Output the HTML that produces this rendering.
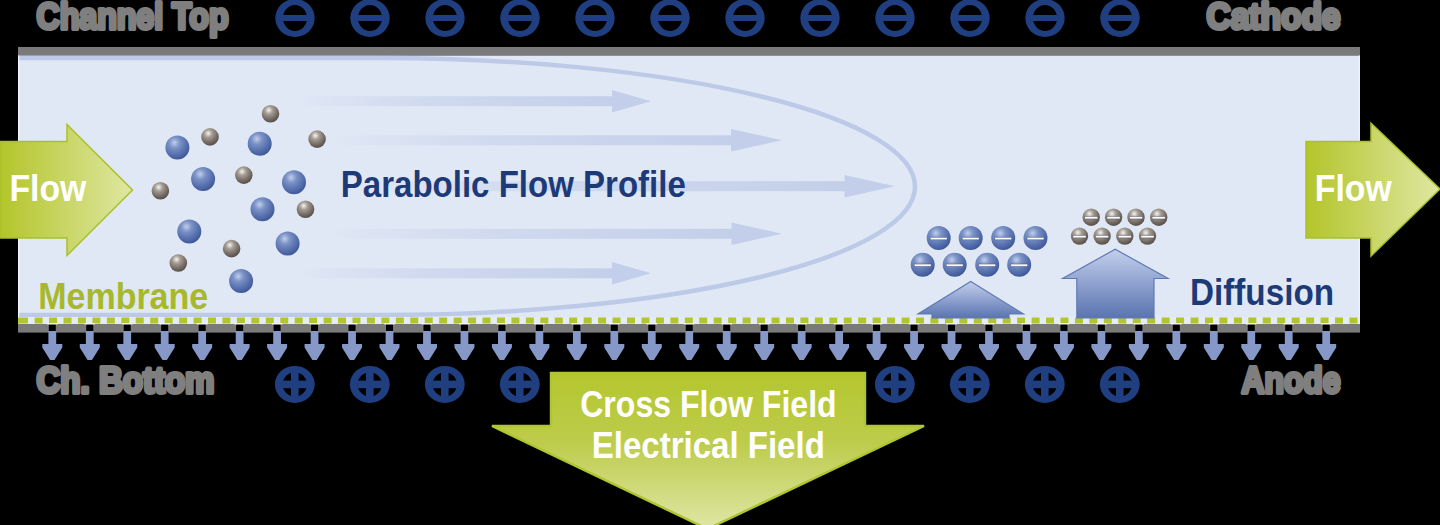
<!DOCTYPE html>
<html><head><meta charset="utf-8"><style>
html,body{margin:0;padding:0;background:#000;width:1440px;height:525px;overflow:hidden}
svg{display:block}
</style></head><body><svg width="1440" height="525" viewBox="0 0 1440 525">
<defs>
 <radialGradient id="gb" cx="0.38" cy="0.3" r="0.75">
  <stop offset="0" stop-color="#c2cde9"/>
  <stop offset="0.3" stop-color="#7a92c6"/>
  <stop offset="0.75" stop-color="#5069a8"/>
  <stop offset="1" stop-color="#3b5491"/>
 </radialGradient>
 <radialGradient id="gg" cx="0.4" cy="0.3" r="0.75">
  <stop offset="0" stop-color="#f6f4f0"/>
  <stop offset="0.3" stop-color="#a59d95"/>
  <stop offset="0.75" stop-color="#6c645c"/>
  <stop offset="1" stop-color="#4f4842"/>
 </radialGradient>
 <linearGradient id="gfl" x1="0" y1="0" x2="1" y2="0">
  <stop offset="0" stop-color="#b3c52b"/>
  <stop offset="1" stop-color="#dfe7a2"/>
 </linearGradient>
 <linearGradient id="gdown" x1="0" y1="0" x2="0" y2="1">
  <stop offset="0" stop-color="#b4c62e"/>
  <stop offset="0.45" stop-color="#bdcc4c"/>
  <stop offset="1" stop-color="#dfe6a6"/>
 </linearGradient>
 <linearGradient id="gup" x1="0" y1="0" x2="0" y2="1">
  <stop offset="0" stop-color="#c3cfec"/>
  <stop offset="1" stop-color="#5a74b1"/>
 </linearGradient>
 <linearGradient id="gshaft" gradientUnits="userSpaceOnUse" x1="290" y1="0" x2="800" y2="0">
  <stop offset="0" stop-color="#c3cfea" stop-opacity="0"/>
  <stop offset="0.5" stop-color="#c3cfea" stop-opacity="0.75"/>
  <stop offset="1" stop-color="#c3cfea" stop-opacity="1"/>
 </linearGradient>
</defs>
<rect x="18" y="47" width="1342" height="8.5" fill="#7a7a7a"/><rect x="18" y="55.5" width="1342" height="268.5" fill="#e1e8f5"/><path d="M18 58.099999999999994 L380 58.099999999999994 A535 128.5 0 0 1 380 315.1 L18 315.1" fill="none" stroke="#bccae8" stroke-width="4.5"/><rect x="18" y="55.5" width="1.2" height="262" fill="#f3f6fc"/><rect x="1358.8" y="55.5" width="1.2" height="262" fill="#eef2fa"/><linearGradient id="sh0" gradientUnits="userSpaceOnUse" x1="287" y1="0" x2="612" y2="0"><stop offset="0" stop-color="#c3cfea" stop-opacity="0"/><stop offset="0.45" stop-color="#c3cfea" stop-opacity="0.6"/><stop offset="1" stop-color="#c3cfea" stop-opacity="1"/></linearGradient><rect x="287" y="96.2" width="326" height="10" fill="url(#sh0)"/><path d="M612 89.9 L651 101.2 L612 112.5 Z" fill="#c3cfea"/><linearGradient id="sh1" gradientUnits="userSpaceOnUse" x1="317" y1="0" x2="731" y2="0"><stop offset="0" stop-color="#c3cfea" stop-opacity="0"/><stop offset="0.45" stop-color="#c3cfea" stop-opacity="0.6"/><stop offset="1" stop-color="#c3cfea" stop-opacity="1"/></linearGradient><rect x="317" y="135.3" width="415" height="10" fill="url(#sh1)"/><path d="M731 129.0 L782 140.3 L731 151.60000000000002 Z" fill="#c3cfea"/><linearGradient id="sh2" gradientUnits="userSpaceOnUse" x1="335" y1="0" x2="844.5" y2="0"><stop offset="0" stop-color="#c3cfea" stop-opacity="0"/><stop offset="0.45" stop-color="#c3cfea" stop-opacity="0.6"/><stop offset="1" stop-color="#c3cfea" stop-opacity="1"/></linearGradient><rect x="335" y="181.2" width="510.5" height="10" fill="url(#sh2)"/><path d="M844.5 174.89999999999998 L895 186.2 L844.5 197.5 Z" fill="#c3cfea"/><linearGradient id="sh3" gradientUnits="userSpaceOnUse" x1="315" y1="0" x2="731.5" y2="0"><stop offset="0" stop-color="#c3cfea" stop-opacity="0"/><stop offset="0.45" stop-color="#c3cfea" stop-opacity="0.6"/><stop offset="1" stop-color="#c3cfea" stop-opacity="1"/></linearGradient><rect x="315" y="228.8" width="417.5" height="10" fill="url(#sh3)"/><path d="M731.5 222.5 L782 233.8 L731.5 245.10000000000002 Z" fill="#c3cfea"/><linearGradient id="sh4" gradientUnits="userSpaceOnUse" x1="287" y1="0" x2="612" y2="0"><stop offset="0" stop-color="#c3cfea" stop-opacity="0"/><stop offset="0.45" stop-color="#c3cfea" stop-opacity="0.6"/><stop offset="1" stop-color="#c3cfea" stop-opacity="1"/></linearGradient><rect x="287" y="268.3" width="326" height="10" fill="url(#sh4)"/><path d="M612 262.0 L651 273.3 L612 284.6 Z" fill="#c3cfea"/><rect x="18" y="317" width="1342" height="7" fill="#e6ecf7"/><rect x="18" y="317.5" width="10" height="6" fill="#b2c62c"/><rect x="34.60" y="317.5" width="8.00" height="6" fill="#b2c62c"/><rect x="49.05" y="317.5" width="8.00" height="6" fill="#b2c62c"/><rect x="63.50" y="317.5" width="8.00" height="6" fill="#b2c62c"/><rect x="77.95" y="317.5" width="8.00" height="6" fill="#b2c62c"/><rect x="92.40" y="317.5" width="8.00" height="6" fill="#b2c62c"/><rect x="106.84" y="317.5" width="8.00" height="6" fill="#b2c62c"/><rect x="121.29" y="317.5" width="8.00" height="6" fill="#b2c62c"/><rect x="135.74" y="317.5" width="8.00" height="6" fill="#b2c62c"/><rect x="150.19" y="317.5" width="8.00" height="6" fill="#b2c62c"/><rect x="164.64" y="317.5" width="8.00" height="6" fill="#b2c62c"/><rect x="179.09" y="317.5" width="8.00" height="6" fill="#b2c62c"/><rect x="193.54" y="317.5" width="8.00" height="6" fill="#b2c62c"/><rect x="207.99" y="317.5" width="8.00" height="6" fill="#b2c62c"/><rect x="222.44" y="317.5" width="8.00" height="6" fill="#b2c62c"/><rect x="236.89" y="317.5" width="8.00" height="6" fill="#b2c62c"/><rect x="251.34" y="317.5" width="8.00" height="6" fill="#b2c62c"/><rect x="265.78" y="317.5" width="8.00" height="6" fill="#b2c62c"/><rect x="280.23" y="317.5" width="8.00" height="6" fill="#b2c62c"/><rect x="294.68" y="317.5" width="8.00" height="6" fill="#b2c62c"/><rect x="309.13" y="317.5" width="8.00" height="6" fill="#b2c62c"/><rect x="323.58" y="317.5" width="8.00" height="6" fill="#b2c62c"/><rect x="338.03" y="317.5" width="8.00" height="6" fill="#b2c62c"/><rect x="352.48" y="317.5" width="8.00" height="6" fill="#b2c62c"/><rect x="366.93" y="317.5" width="8.00" height="6" fill="#b2c62c"/><rect x="381.38" y="317.5" width="8.00" height="6" fill="#b2c62c"/><rect x="395.83" y="317.5" width="8.00" height="6" fill="#b2c62c"/><rect x="410.27" y="317.5" width="8.00" height="6" fill="#b2c62c"/><rect x="424.72" y="317.5" width="8.00" height="6" fill="#b2c62c"/><rect x="439.17" y="317.5" width="8.00" height="6" fill="#b2c62c"/><rect x="453.62" y="317.5" width="8.00" height="6" fill="#b2c62c"/><rect x="468.07" y="317.5" width="8.00" height="6" fill="#b2c62c"/><rect x="482.52" y="317.5" width="8.00" height="6" fill="#b2c62c"/><rect x="496.97" y="317.5" width="8.00" height="6" fill="#b2c62c"/><rect x="511.42" y="317.5" width="8.00" height="6" fill="#b2c62c"/><rect x="525.87" y="317.5" width="8.00" height="6" fill="#b2c62c"/><rect x="540.32" y="317.5" width="8.00" height="6" fill="#b2c62c"/><rect x="554.76" y="317.5" width="8.00" height="6" fill="#b2c62c"/><rect x="569.21" y="317.5" width="8.00" height="6" fill="#b2c62c"/><rect x="583.66" y="317.5" width="8.00" height="6" fill="#b2c62c"/><rect x="598.11" y="317.5" width="8.00" height="6" fill="#b2c62c"/><rect x="612.56" y="317.5" width="8.00" height="6" fill="#b2c62c"/><rect x="627.01" y="317.5" width="8.00" height="6" fill="#b2c62c"/><rect x="641.46" y="317.5" width="8.00" height="6" fill="#b2c62c"/><rect x="655.91" y="317.5" width="8.00" height="6" fill="#b2c62c"/><rect x="670.36" y="317.5" width="8.00" height="6" fill="#b2c62c"/><rect x="684.80" y="317.5" width="8.00" height="6" fill="#b2c62c"/><rect x="699.25" y="317.5" width="8.00" height="6" fill="#b2c62c"/><rect x="713.70" y="317.5" width="8.00" height="6" fill="#b2c62c"/><rect x="728.15" y="317.5" width="8.00" height="6" fill="#b2c62c"/><rect x="742.60" y="317.5" width="8.00" height="6" fill="#b2c62c"/><rect x="757.05" y="317.5" width="8.00" height="6" fill="#b2c62c"/><rect x="771.50" y="317.5" width="8.00" height="6" fill="#b2c62c"/><rect x="785.95" y="317.5" width="8.00" height="6" fill="#b2c62c"/><rect x="800.40" y="317.5" width="8.00" height="6" fill="#b2c62c"/><rect x="814.85" y="317.5" width="8.00" height="6" fill="#b2c62c"/><rect x="829.29" y="317.5" width="8.00" height="6" fill="#b2c62c"/><rect x="843.74" y="317.5" width="8.00" height="6" fill="#b2c62c"/><rect x="858.19" y="317.5" width="8.00" height="6" fill="#b2c62c"/><rect x="872.64" y="317.5" width="8.00" height="6" fill="#b2c62c"/><rect x="887.09" y="317.5" width="8.00" height="6" fill="#b2c62c"/><rect x="901.54" y="317.5" width="8.00" height="6" fill="#b2c62c"/><rect x="915.99" y="317.5" width="8.00" height="6" fill="#b2c62c"/><rect x="930.44" y="317.5" width="8.00" height="6" fill="#b2c62c"/><rect x="944.89" y="317.5" width="8.00" height="6" fill="#b2c62c"/><rect x="959.34" y="317.5" width="8.00" height="6" fill="#b2c62c"/><rect x="973.78" y="317.5" width="8.00" height="6" fill="#b2c62c"/><rect x="988.23" y="317.5" width="8.00" height="6" fill="#b2c62c"/><rect x="1002.68" y="317.5" width="8.00" height="6" fill="#b2c62c"/><rect x="1017.13" y="317.5" width="8.00" height="6" fill="#b2c62c"/><rect x="1031.58" y="317.5" width="8.00" height="6" fill="#b2c62c"/><rect x="1046.03" y="317.5" width="8.00" height="6" fill="#b2c62c"/><rect x="1060.48" y="317.5" width="8.00" height="6" fill="#b2c62c"/><rect x="1074.93" y="317.5" width="8.00" height="6" fill="#b2c62c"/><rect x="1089.38" y="317.5" width="8.00" height="6" fill="#b2c62c"/><rect x="1103.83" y="317.5" width="8.00" height="6" fill="#b2c62c"/><rect x="1118.27" y="317.5" width="8.00" height="6" fill="#b2c62c"/><rect x="1132.72" y="317.5" width="8.00" height="6" fill="#b2c62c"/><rect x="1147.17" y="317.5" width="8.00" height="6" fill="#b2c62c"/><rect x="1161.62" y="317.5" width="8.00" height="6" fill="#b2c62c"/><rect x="1176.07" y="317.5" width="8.00" height="6" fill="#b2c62c"/><rect x="1190.52" y="317.5" width="8.00" height="6" fill="#b2c62c"/><rect x="1204.97" y="317.5" width="8.00" height="6" fill="#b2c62c"/><rect x="1219.42" y="317.5" width="8.00" height="6" fill="#b2c62c"/><rect x="1233.87" y="317.5" width="8.00" height="6" fill="#b2c62c"/><rect x="1248.32" y="317.5" width="8.00" height="6" fill="#b2c62c"/><rect x="1262.76" y="317.5" width="8.00" height="6" fill="#b2c62c"/><rect x="1277.21" y="317.5" width="8.00" height="6" fill="#b2c62c"/><rect x="1291.66" y="317.5" width="8.00" height="6" fill="#b2c62c"/><rect x="1306.11" y="317.5" width="8.00" height="6" fill="#b2c62c"/><rect x="1320.56" y="317.5" width="8.00" height="6" fill="#b2c62c"/><rect x="1335.01" y="317.5" width="8.00" height="6" fill="#b2c62c"/><rect x="1349.46" y="317.5" width="8.00" height="6" fill="#b2c62c"/><rect x="18" y="324" width="1342" height="8.6" fill="#7a7a7a"/><rect x="48.80" y="324" width="7" height="9" fill="#000"/><rect x="47.10" y="323.2" width="10.4" height="1.3" fill="#f4f7fc"/><path d="M48.40 331 V344 H42.30 V347.5 L50.10 360 H54.50 L62.30 347.5 V344 H56.20 V331 Z" fill="#8598c8"/><rect x="86.27" y="324" width="7" height="9" fill="#000"/><rect x="84.57" y="323.2" width="10.4" height="1.3" fill="#f4f7fc"/><path d="M85.87 331 V344 H79.77 V347.5 L87.57 360 H91.97 L99.77 347.5 V344 H93.67 V331 Z" fill="#8598c8"/><rect x="123.74" y="324" width="7" height="9" fill="#000"/><rect x="122.04" y="323.2" width="10.4" height="1.3" fill="#f4f7fc"/><path d="M123.34 331 V344 H117.24 V347.5 L125.04 360 H129.44 L137.24 347.5 V344 H131.14 V331 Z" fill="#8598c8"/><rect x="161.20" y="324" width="7" height="9" fill="#000"/><rect x="159.50" y="323.2" width="10.4" height="1.3" fill="#f4f7fc"/><path d="M160.80 331 V344 H154.70 V347.5 L162.50 360 H166.90 L174.70 347.5 V344 H168.60 V331 Z" fill="#8598c8"/><rect x="198.67" y="324" width="7" height="9" fill="#000"/><rect x="196.97" y="323.2" width="10.4" height="1.3" fill="#f4f7fc"/><path d="M198.27 331 V344 H192.17 V347.5 L199.97 360 H204.37 L212.17 347.5 V344 H206.07 V331 Z" fill="#8598c8"/><rect x="236.14" y="324" width="7" height="9" fill="#000"/><rect x="234.44" y="323.2" width="10.4" height="1.3" fill="#f4f7fc"/><path d="M235.74 331 V344 H229.64 V347.5 L237.44 360 H241.84 L249.64 347.5 V344 H243.54 V331 Z" fill="#8598c8"/><rect x="273.61" y="324" width="7" height="9" fill="#000"/><rect x="271.91" y="323.2" width="10.4" height="1.3" fill="#f4f7fc"/><path d="M273.21 331 V344 H267.11 V347.5 L274.91 360 H279.31 L287.11 347.5 V344 H281.01 V331 Z" fill="#8598c8"/><rect x="311.07" y="324" width="7" height="9" fill="#000"/><rect x="309.37" y="323.2" width="10.4" height="1.3" fill="#f4f7fc"/><path d="M310.67 331 V344 H304.57 V347.5 L312.37 360 H316.77 L324.57 347.5 V344 H318.47 V331 Z" fill="#8598c8"/><rect x="348.54" y="324" width="7" height="9" fill="#000"/><rect x="346.84" y="323.2" width="10.4" height="1.3" fill="#f4f7fc"/><path d="M348.14 331 V344 H342.04 V347.5 L349.84 360 H354.24 L362.04 347.5 V344 H355.94 V331 Z" fill="#8598c8"/><rect x="386.01" y="324" width="7" height="9" fill="#000"/><rect x="384.31" y="323.2" width="10.4" height="1.3" fill="#f4f7fc"/><path d="M385.61 331 V344 H379.51 V347.5 L387.31 360 H391.71 L399.51 347.5 V344 H393.41 V331 Z" fill="#8598c8"/><rect x="423.48" y="324" width="7" height="9" fill="#000"/><rect x="421.78" y="323.2" width="10.4" height="1.3" fill="#f4f7fc"/><path d="M423.08 331 V344 H416.98 V347.5 L424.78 360 H429.18 L436.98 347.5 V344 H430.88 V331 Z" fill="#8598c8"/><rect x="460.94" y="324" width="7" height="9" fill="#000"/><rect x="459.24" y="323.2" width="10.4" height="1.3" fill="#f4f7fc"/><path d="M460.54 331 V344 H454.44 V347.5 L462.24 360 H466.64 L474.44 347.5 V344 H468.34 V331 Z" fill="#8598c8"/><rect x="498.41" y="324" width="7" height="9" fill="#000"/><rect x="496.71" y="323.2" width="10.4" height="1.3" fill="#f4f7fc"/><path d="M498.01 331 V344 H491.91 V347.5 L499.71 360 H504.11 L511.91 347.5 V344 H505.81 V331 Z" fill="#8598c8"/><rect x="535.88" y="324" width="7" height="9" fill="#000"/><rect x="534.18" y="323.2" width="10.4" height="1.3" fill="#f4f7fc"/><path d="M535.48 331 V344 H529.38 V347.5 L537.18 360 H541.58 L549.38 347.5 V344 H543.28 V331 Z" fill="#8598c8"/><rect x="573.35" y="324" width="7" height="9" fill="#000"/><rect x="571.65" y="323.2" width="10.4" height="1.3" fill="#f4f7fc"/><path d="M572.95 331 V344 H566.85 V347.5 L574.65 360 H579.05 L586.85 347.5 V344 H580.75 V331 Z" fill="#8598c8"/><rect x="610.81" y="324" width="7" height="9" fill="#000"/><rect x="609.11" y="323.2" width="10.4" height="1.3" fill="#f4f7fc"/><path d="M610.41 331 V344 H604.31 V347.5 L612.11 360 H616.51 L624.31 347.5 V344 H618.21 V331 Z" fill="#8598c8"/><rect x="648.28" y="324" width="7" height="9" fill="#000"/><rect x="646.58" y="323.2" width="10.4" height="1.3" fill="#f4f7fc"/><path d="M647.88 331 V344 H641.78 V347.5 L649.58 360 H653.98 L661.78 347.5 V344 H655.68 V331 Z" fill="#8598c8"/><rect x="685.75" y="324" width="7" height="9" fill="#000"/><rect x="684.05" y="323.2" width="10.4" height="1.3" fill="#f4f7fc"/><path d="M685.35 331 V344 H679.25 V347.5 L687.05 360 H691.45 L699.25 347.5 V344 H693.15 V331 Z" fill="#8598c8"/><rect x="723.22" y="324" width="7" height="9" fill="#000"/><rect x="721.52" y="323.2" width="10.4" height="1.3" fill="#f4f7fc"/><path d="M722.82 331 V344 H716.72 V347.5 L724.52 360 H728.92 L736.72 347.5 V344 H730.62 V331 Z" fill="#8598c8"/><rect x="760.69" y="324" width="7" height="9" fill="#000"/><rect x="758.99" y="323.2" width="10.4" height="1.3" fill="#f4f7fc"/><path d="M760.29 331 V344 H754.19 V347.5 L761.99 360 H766.39 L774.19 347.5 V344 H768.09 V331 Z" fill="#8598c8"/><rect x="798.15" y="324" width="7" height="9" fill="#000"/><rect x="796.45" y="323.2" width="10.4" height="1.3" fill="#f4f7fc"/><path d="M797.75 331 V344 H791.65 V347.5 L799.45 360 H803.85 L811.65 347.5 V344 H805.55 V331 Z" fill="#8598c8"/><rect x="835.62" y="324" width="7" height="9" fill="#000"/><rect x="833.92" y="323.2" width="10.4" height="1.3" fill="#f4f7fc"/><path d="M835.22 331 V344 H829.12 V347.5 L836.92 360 H841.32 L849.12 347.5 V344 H843.02 V331 Z" fill="#8598c8"/><rect x="873.09" y="324" width="7" height="9" fill="#000"/><rect x="871.39" y="323.2" width="10.4" height="1.3" fill="#f4f7fc"/><path d="M872.69 331 V344 H866.59 V347.5 L874.39 360 H878.79 L886.59 347.5 V344 H880.49 V331 Z" fill="#8598c8"/><rect x="910.56" y="324" width="7" height="9" fill="#000"/><rect x="908.86" y="323.2" width="10.4" height="1.3" fill="#f4f7fc"/><path d="M910.16 331 V344 H904.06 V347.5 L911.86 360 H916.26 L924.06 347.5 V344 H917.96 V331 Z" fill="#8598c8"/><rect x="948.02" y="324" width="7" height="9" fill="#000"/><rect x="946.32" y="323.2" width="10.4" height="1.3" fill="#f4f7fc"/><path d="M947.62 331 V344 H941.52 V347.5 L949.32 360 H953.72 L961.52 347.5 V344 H955.42 V331 Z" fill="#8598c8"/><rect x="985.49" y="324" width="7" height="9" fill="#000"/><rect x="983.79" y="323.2" width="10.4" height="1.3" fill="#f4f7fc"/><path d="M985.09 331 V344 H978.99 V347.5 L986.79 360 H991.19 L998.99 347.5 V344 H992.89 V331 Z" fill="#8598c8"/><rect x="1022.96" y="324" width="7" height="9" fill="#000"/><rect x="1021.26" y="323.2" width="10.4" height="1.3" fill="#f4f7fc"/><path d="M1022.56 331 V344 H1016.46 V347.5 L1024.26 360 H1028.66 L1036.46 347.5 V344 H1030.36 V331 Z" fill="#8598c8"/><rect x="1060.43" y="324" width="7" height="9" fill="#000"/><rect x="1058.73" y="323.2" width="10.4" height="1.3" fill="#f4f7fc"/><path d="M1060.03 331 V344 H1053.93 V347.5 L1061.73 360 H1066.13 L1073.93 347.5 V344 H1067.83 V331 Z" fill="#8598c8"/><rect x="1097.89" y="324" width="7" height="9" fill="#000"/><rect x="1096.19" y="323.2" width="10.4" height="1.3" fill="#f4f7fc"/><path d="M1097.49 331 V344 H1091.39 V347.5 L1099.19 360 H1103.59 L1111.39 347.5 V344 H1105.29 V331 Z" fill="#8598c8"/><rect x="1135.36" y="324" width="7" height="9" fill="#000"/><rect x="1133.66" y="323.2" width="10.4" height="1.3" fill="#f4f7fc"/><path d="M1134.96 331 V344 H1128.86 V347.5 L1136.66 360 H1141.06 L1148.86 347.5 V344 H1142.76 V331 Z" fill="#8598c8"/><rect x="1172.83" y="324" width="7" height="9" fill="#000"/><rect x="1171.13" y="323.2" width="10.4" height="1.3" fill="#f4f7fc"/><path d="M1172.43 331 V344 H1166.33 V347.5 L1174.13 360 H1178.53 L1186.33 347.5 V344 H1180.23 V331 Z" fill="#8598c8"/><rect x="1210.30" y="324" width="7" height="9" fill="#000"/><rect x="1208.60" y="323.2" width="10.4" height="1.3" fill="#f4f7fc"/><path d="M1209.90 331 V344 H1203.80 V347.5 L1211.60 360 H1216.00 L1223.80 347.5 V344 H1217.70 V331 Z" fill="#8598c8"/><rect x="1247.76" y="324" width="7" height="9" fill="#000"/><rect x="1246.06" y="323.2" width="10.4" height="1.3" fill="#f4f7fc"/><path d="M1247.36 331 V344 H1241.26 V347.5 L1249.06 360 H1253.46 L1261.26 347.5 V344 H1255.16 V331 Z" fill="#8598c8"/><rect x="1285.23" y="324" width="7" height="9" fill="#000"/><rect x="1283.53" y="323.2" width="10.4" height="1.3" fill="#f4f7fc"/><path d="M1284.83 331 V344 H1278.73 V347.5 L1286.53 360 H1290.93 L1298.73 347.5 V344 H1292.63 V331 Z" fill="#8598c8"/><rect x="1322.70" y="324" width="7" height="9" fill="#000"/><rect x="1321.00" y="323.2" width="10.4" height="1.3" fill="#f4f7fc"/><path d="M1322.30 331 V344 H1316.20 V347.5 L1324.00 360 H1328.40 L1336.20 347.5 V344 H1330.10 V331 Z" fill="#8598c8"/><circle cx="177.4" cy="147.5" r="12" fill="url(#gb)"/><circle cx="259.7" cy="143.7" r="12" fill="url(#gb)"/><circle cx="203.1" cy="178.9" r="12" fill="url(#gb)"/><circle cx="294" cy="182.3" r="12" fill="url(#gb)"/><circle cx="262.5" cy="209.3" r="12" fill="url(#gb)"/><circle cx="189.3" cy="231.4" r="12" fill="url(#gb)"/><circle cx="287.6" cy="243.6" r="12" fill="url(#gb)"/><circle cx="241.1" cy="281" r="12" fill="url(#gb)"/><circle cx="270.5" cy="113.7" r="8.8" fill="url(#gg)"/><circle cx="210" cy="136.9" r="8.8" fill="url(#gg)"/><circle cx="317.1" cy="139.1" r="8.8" fill="url(#gg)"/><circle cx="160.4" cy="190.7" r="8.8" fill="url(#gg)"/><circle cx="243.8" cy="175.1" r="8.8" fill="url(#gg)"/><circle cx="305.5" cy="209.3" r="8.8" fill="url(#gg)"/><circle cx="231.6" cy="248.6" r="8.8" fill="url(#gg)"/><circle cx="178.3" cy="263" r="8.8" fill="url(#gg)"/><path d="M275.3 18 a19.7 19 0 1 0 39.4 0 a19.7 19 0 1 0 -39.4 0 Z M283 18 a12 13 0 1 1 24 0 a12 13 0 1 1 -24 0 Z" fill="#1f3f80" fill-rule="evenodd"/><rect x="282.5" y="15" width="25" height="6" fill="#1f3f80"/><path d="M350.3 18 a19.7 19 0 1 0 39.4 0 a19.7 19 0 1 0 -39.4 0 Z M358 18 a12 13 0 1 1 24 0 a12 13 0 1 1 -24 0 Z" fill="#1f3f80" fill-rule="evenodd"/><rect x="357.5" y="15" width="25" height="6" fill="#1f3f80"/><path d="M425.3 18 a19.7 19 0 1 0 39.4 0 a19.7 19 0 1 0 -39.4 0 Z M433 18 a12 13 0 1 1 24 0 a12 13 0 1 1 -24 0 Z" fill="#1f3f80" fill-rule="evenodd"/><rect x="432.5" y="15" width="25" height="6" fill="#1f3f80"/><path d="M500.3 18 a19.7 19 0 1 0 39.4 0 a19.7 19 0 1 0 -39.4 0 Z M508 18 a12 13 0 1 1 24 0 a12 13 0 1 1 -24 0 Z" fill="#1f3f80" fill-rule="evenodd"/><rect x="507.5" y="15" width="25" height="6" fill="#1f3f80"/><path d="M575.3 18 a19.7 19 0 1 0 39.4 0 a19.7 19 0 1 0 -39.4 0 Z M583 18 a12 13 0 1 1 24 0 a12 13 0 1 1 -24 0 Z" fill="#1f3f80" fill-rule="evenodd"/><rect x="582.5" y="15" width="25" height="6" fill="#1f3f80"/><path d="M650.3 18 a19.7 19 0 1 0 39.4 0 a19.7 19 0 1 0 -39.4 0 Z M658 18 a12 13 0 1 1 24 0 a12 13 0 1 1 -24 0 Z" fill="#1f3f80" fill-rule="evenodd"/><rect x="657.5" y="15" width="25" height="6" fill="#1f3f80"/><path d="M725.3 18 a19.7 19 0 1 0 39.4 0 a19.7 19 0 1 0 -39.4 0 Z M733 18 a12 13 0 1 1 24 0 a12 13 0 1 1 -24 0 Z" fill="#1f3f80" fill-rule="evenodd"/><rect x="732.5" y="15" width="25" height="6" fill="#1f3f80"/><path d="M800.3 18 a19.7 19 0 1 0 39.4 0 a19.7 19 0 1 0 -39.4 0 Z M808 18 a12 13 0 1 1 24 0 a12 13 0 1 1 -24 0 Z" fill="#1f3f80" fill-rule="evenodd"/><rect x="807.5" y="15" width="25" height="6" fill="#1f3f80"/><path d="M875.3 18 a19.7 19 0 1 0 39.4 0 a19.7 19 0 1 0 -39.4 0 Z M883 18 a12 13 0 1 1 24 0 a12 13 0 1 1 -24 0 Z" fill="#1f3f80" fill-rule="evenodd"/><rect x="882.5" y="15" width="25" height="6" fill="#1f3f80"/><path d="M950.3 18 a19.7 19 0 1 0 39.4 0 a19.7 19 0 1 0 -39.4 0 Z M958 18 a12 13 0 1 1 24 0 a12 13 0 1 1 -24 0 Z" fill="#1f3f80" fill-rule="evenodd"/><rect x="957.5" y="15" width="25" height="6" fill="#1f3f80"/><path d="M1025.3 18 a19.7 19 0 1 0 39.4 0 a19.7 19 0 1 0 -39.4 0 Z M1033 18 a12 13 0 1 1 24 0 a12 13 0 1 1 -24 0 Z" fill="#1f3f80" fill-rule="evenodd"/><rect x="1032.5" y="15" width="25" height="6" fill="#1f3f80"/><path d="M1100.3 18 a19.7 19 0 1 0 39.4 0 a19.7 19 0 1 0 -39.4 0 Z M1108 18 a12 13 0 1 1 24 0 a12 13 0 1 1 -24 0 Z" fill="#1f3f80" fill-rule="evenodd"/><rect x="1107.5" y="15" width="25" height="6" fill="#1f3f80"/><path d="M274.90000000000003 384.4 a19.9 18.5 0 1 0 39.8 0 a19.9 18.5 0 1 0 -39.8 0 Z M282.7 384.4 a12.1 12.2 0 1 1 24.2 0 a12.1 12.2 0 1 1 -24.2 0 Z" fill="#1f3f80" fill-rule="evenodd"/><rect x="282.3" y="380.6" width="25" height="7.6" fill="#1f3f80"/><rect x="291.0" y="371.5" width="7.6" height="26" fill="#1f3f80"/><path d="M349.90000000000003 384.4 a19.9 18.5 0 1 0 39.8 0 a19.9 18.5 0 1 0 -39.8 0 Z M357.7 384.4 a12.1 12.2 0 1 1 24.2 0 a12.1 12.2 0 1 1 -24.2 0 Z" fill="#1f3f80" fill-rule="evenodd"/><rect x="357.3" y="380.6" width="25" height="7.6" fill="#1f3f80"/><rect x="366.0" y="371.5" width="7.6" height="26" fill="#1f3f80"/><path d="M424.90000000000003 384.4 a19.9 18.5 0 1 0 39.8 0 a19.9 18.5 0 1 0 -39.8 0 Z M432.7 384.4 a12.1 12.2 0 1 1 24.2 0 a12.1 12.2 0 1 1 -24.2 0 Z" fill="#1f3f80" fill-rule="evenodd"/><rect x="432.3" y="380.6" width="25" height="7.6" fill="#1f3f80"/><rect x="441.0" y="371.5" width="7.6" height="26" fill="#1f3f80"/><path d="M499.9 384.4 a19.9 18.5 0 1 0 39.8 0 a19.9 18.5 0 1 0 -39.8 0 Z M507.69999999999993 384.4 a12.1 12.2 0 1 1 24.2 0 a12.1 12.2 0 1 1 -24.2 0 Z" fill="#1f3f80" fill-rule="evenodd"/><rect x="507.29999999999995" y="380.6" width="25" height="7.6" fill="#1f3f80"/><rect x="516.0" y="371.5" width="7.6" height="26" fill="#1f3f80"/><path d="M874.9 384.4 a19.9 18.5 0 1 0 39.8 0 a19.9 18.5 0 1 0 -39.8 0 Z M882.6999999999999 384.4 a12.1 12.2 0 1 1 24.2 0 a12.1 12.2 0 1 1 -24.2 0 Z" fill="#1f3f80" fill-rule="evenodd"/><rect x="882.3" y="380.6" width="25" height="7.6" fill="#1f3f80"/><rect x="891.0" y="371.5" width="7.6" height="26" fill="#1f3f80"/><path d="M949.9 384.4 a19.9 18.5 0 1 0 39.8 0 a19.9 18.5 0 1 0 -39.8 0 Z M957.6999999999999 384.4 a12.1 12.2 0 1 1 24.2 0 a12.1 12.2 0 1 1 -24.2 0 Z" fill="#1f3f80" fill-rule="evenodd"/><rect x="957.3" y="380.6" width="25" height="7.6" fill="#1f3f80"/><rect x="966.0" y="371.5" width="7.6" height="26" fill="#1f3f80"/><path d="M1024.8999999999999 384.4 a19.9 18.5 0 1 0 39.8 0 a19.9 18.5 0 1 0 -39.8 0 Z M1032.7 384.4 a12.1 12.2 0 1 1 24.2 0 a12.1 12.2 0 1 1 -24.2 0 Z" fill="#1f3f80" fill-rule="evenodd"/><rect x="1032.3" y="380.6" width="25" height="7.6" fill="#1f3f80"/><rect x="1041.0" y="371.5" width="7.6" height="26" fill="#1f3f80"/><path d="M1099.8999999999999 384.4 a19.9 18.5 0 1 0 39.8 0 a19.9 18.5 0 1 0 -39.8 0 Z M1107.7 384.4 a12.1 12.2 0 1 1 24.2 0 a12.1 12.2 0 1 1 -24.2 0 Z" fill="#1f3f80" fill-rule="evenodd"/><rect x="1107.3" y="380.6" width="25" height="7.6" fill="#1f3f80"/><rect x="1116.0" y="371.5" width="7.6" height="26" fill="#1f3f80"/><path d="M0 141.5 H67 V124.5 L132.5 190 L67 255.5 V238 H0 Z" fill="url(#gfl)" stroke="#a9c02a" stroke-width="1.5"/><path d="M1306 141.5 H1371 V123.3 L1440 189 L1371 256 V238 H1306 Z" fill="url(#gfl)" stroke="#a9c02a" stroke-width="1.5"/><path d="M932 318 V314 H918 L970.7 281.5 L1023.5 314 H1009 V318 Z" fill="url(#gup)" stroke="#5f7ab5" stroke-width="1.2"/><path d="M1076.8 318 V278.5 H1062.7 L1115.2 249.2 L1168 278.5 H1154 V318 Z" fill="url(#gup)" stroke="#5f7ab5" stroke-width="1.2"/><circle cx="938.7" cy="238" r="12" fill="url(#gb)"/><rect x="930.30" y="237.40" width="16.80" height="2.3" fill="#fff" stroke="rgba(30,40,70,0.35)" stroke-width="0.9"/><circle cx="970.7" cy="238" r="12" fill="url(#gb)"/><rect x="962.30" y="237.40" width="16.80" height="2.3" fill="#fff" stroke="rgba(30,40,70,0.35)" stroke-width="0.9"/><circle cx="1003.2" cy="238" r="12" fill="url(#gb)"/><rect x="994.80" y="237.40" width="16.80" height="2.3" fill="#fff" stroke="rgba(30,40,70,0.35)" stroke-width="0.9"/><circle cx="1035.5" cy="238" r="12" fill="url(#gb)"/><rect x="1027.10" y="237.40" width="16.80" height="2.3" fill="#fff" stroke="rgba(30,40,70,0.35)" stroke-width="0.9"/><circle cx="922.7" cy="264.7" r="12" fill="url(#gb)"/><rect x="914.30" y="264.10" width="16.80" height="2.3" fill="#fff" stroke="rgba(30,40,70,0.35)" stroke-width="0.9"/><circle cx="954.7" cy="264.7" r="12" fill="url(#gb)"/><rect x="946.30" y="264.10" width="16.80" height="2.3" fill="#fff" stroke="rgba(30,40,70,0.35)" stroke-width="0.9"/><circle cx="987.2" cy="264.7" r="12" fill="url(#gb)"/><rect x="978.80" y="264.10" width="16.80" height="2.3" fill="#fff" stroke="rgba(30,40,70,0.35)" stroke-width="0.9"/><circle cx="1019.2" cy="264.7" r="12" fill="url(#gb)"/><rect x="1010.80" y="264.10" width="16.80" height="2.3" fill="#fff" stroke="rgba(30,40,70,0.35)" stroke-width="0.9"/><circle cx="1091.2" cy="217.2" r="8.7" fill="url(#gg)"/><rect x="1084.67" y="216.60" width="13.05" height="2.3" fill="#fff" stroke="rgba(30,40,70,0.35)" stroke-width="0.9"/><circle cx="1113.6" cy="217.2" r="8.7" fill="url(#gg)"/><rect x="1107.07" y="216.60" width="13.05" height="2.3" fill="#fff" stroke="rgba(30,40,70,0.35)" stroke-width="0.9"/><circle cx="1136" cy="217.2" r="8.7" fill="url(#gg)"/><rect x="1129.47" y="216.60" width="13.05" height="2.3" fill="#fff" stroke="rgba(30,40,70,0.35)" stroke-width="0.9"/><circle cx="1158.7" cy="217.2" r="8.7" fill="url(#gg)"/><rect x="1152.17" y="216.60" width="13.05" height="2.3" fill="#fff" stroke="rgba(30,40,70,0.35)" stroke-width="0.9"/><circle cx="1079.5" cy="236.1" r="8.7" fill="url(#gg)"/><rect x="1072.97" y="235.50" width="13.05" height="2.3" fill="#fff" stroke="rgba(30,40,70,0.35)" stroke-width="0.9"/><circle cx="1102.1" cy="236.1" r="8.7" fill="url(#gg)"/><rect x="1095.57" y="235.50" width="13.05" height="2.3" fill="#fff" stroke="rgba(30,40,70,0.35)" stroke-width="0.9"/><circle cx="1124.8" cy="236.1" r="8.7" fill="url(#gg)"/><rect x="1118.27" y="235.50" width="13.05" height="2.3" fill="#fff" stroke="rgba(30,40,70,0.35)" stroke-width="0.9"/><circle cx="1147.5" cy="236.1" r="8.7" fill="url(#gg)"/><rect x="1140.97" y="235.50" width="13.05" height="2.3" fill="#fff" stroke="rgba(30,40,70,0.35)" stroke-width="0.9"/><path d="M551 373 H865 V426 H924 L707.5 529 L492 426 H551 Z" fill="url(#gdown)" stroke="#b0c532" stroke-width="2.4" stroke-linejoin="miter"/><text x="36.5" y="29.3" font-family='"Liberation Sans", sans-serif' font-size="36.5" font-weight="bold" fill="#7f7f7f" textLength="192" lengthAdjust="spacingAndGlyphs" stroke="#7f7f7f" stroke-width="4" stroke-linejoin="round">Channel Top</text><text x="1206.5" y="29.3" font-family='"Liberation Sans", sans-serif' font-size="36.5" font-weight="bold" fill="#7f7f7f" textLength="134" lengthAdjust="spacingAndGlyphs" stroke="#7f7f7f" stroke-width="4" stroke-linejoin="round">Cathode</text><text x="36.5" y="392.6" font-family='"Liberation Sans", sans-serif' font-size="36.5" font-weight="bold" fill="#7f7f7f" textLength="178" lengthAdjust="spacingAndGlyphs" stroke="#7f7f7f" stroke-width="4" stroke-linejoin="round">Ch. Bottom</text><text x="1241.5" y="392.6" font-family='"Liberation Sans", sans-serif' font-size="36.5" font-weight="bold" fill="#7f7f7f" textLength="99" lengthAdjust="spacingAndGlyphs" stroke="#7f7f7f" stroke-width="4" stroke-linejoin="round">Anode</text><text x="340.8" y="197.4" font-family='"Liberation Sans", sans-serif' font-size="37.5" font-weight="bold" fill="#1d3a78" textLength="345" lengthAdjust="spacingAndGlyphs" >Parabolic Flow Profile</text><text x="1190" y="304.6" font-family='"Liberation Sans", sans-serif' font-size="37.5" font-weight="bold" fill="#1d3a78" textLength="144" lengthAdjust="spacingAndGlyphs" >Diffusion</text><text x="38.2" y="308.8" font-family='"Liberation Sans", sans-serif' font-size="37" font-weight="bold" fill="#a7b82a" textLength="170" lengthAdjust="spacingAndGlyphs" >Membrane</text><text x="9.4" y="200.9" font-family='"Liberation Sans", sans-serif' font-size="37.5" font-weight="bold" fill="#fff" textLength="77" lengthAdjust="spacingAndGlyphs" >Flow</text><text x="1314.8" y="201.3" font-family='"Liberation Sans", sans-serif' font-size="37.5" font-weight="bold" fill="#fff" textLength="77" lengthAdjust="spacingAndGlyphs" >Flow</text><text x="580.2" y="417" font-family='"Liberation Sans", sans-serif' font-size="37.5" font-weight="bold" fill="#fff" textLength="256.5" lengthAdjust="spacingAndGlyphs" >Cross Flow Field</text><text x="591.8" y="458.4" font-family='"Liberation Sans", sans-serif' font-size="37.5" font-weight="bold" fill="#fff" textLength="233" lengthAdjust="spacingAndGlyphs" >Electrical Field</text></svg></body></html>
